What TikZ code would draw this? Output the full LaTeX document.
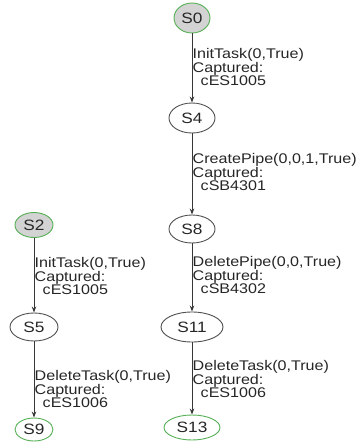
\documentclass[tikz,border=0pt]{standalone}
\usepackage{fontspec}
\setmainfont{Liberation Sans}[FakeStretch=1.15]
\usetikzlibrary{shapes.geometric,arrows.meta}
\definecolor{edgegray}{RGB}{55,55,55}
\definecolor{nodegray}{RGB}{80,80,80}
\definecolor{startfill}{RGB}{211,211,211}
\definecolor{stategreen}{RGB}{85,175,85}
\begin{document}
\begin{tikzpicture}[x=1pt,y=-1pt,
  state/.style={ellipse,draw=nodegray,line width=0.9pt,inner sep=0pt,
    font=\fontsize{15}{15}\selectfont,text=black!85},
  initstate/.style={state,draw=stategreen,fill=startfill},
  finalstate/.style={state,draw=stategreen},
  trans/.style={draw=edgegray,line width=0.9pt,
    -{Stealth[length=6pt,width=4.5pt]}},
  tlabel/.style={anchor=west,align=left,inner sep=0pt,text=black!85,
    font=\fontsize{14}{13.8}\selectfont}]
\useasboundingbox (0,0) rectangle (358,442);

% right chain
\node[initstate,minimum width=36pt,minimum height=30pt] (s0) at (192,18) {S0};
\node[state,minimum width=46pt,minimum height=30pt] (s4) at (192,118) {S4};
\node[state,minimum width=46pt,minimum height=28pt] (s8) at (192,229) {S8};
\node[state,minimum width=62pt,minimum height=30pt] (s11) at (192,327) {S11};
\node[finalstate,minimum width=56pt,minimum height=25pt] (s13) at (192,427.5) {S13};

% left chain
\node[initstate,minimum width=38pt,minimum height=25pt] (s2) at (34,225) {S2};
\node[state,minimum width=48pt,minimum height=28pt] (s5) at (34,327) {S5};
\node[finalstate,minimum width=38pt,minimum height=23pt] (s9) at (34,429.5) {S9};

% transitions
\draw[trans] (s0) -- (s4);
\draw[trans] (s4) -- (s8);
\draw[trans] (s8) -- (s11);
\draw[trans] (s11) -- (s13);
\draw[trans] (s2) -- (s5);
\draw[trans] (s5) -- (s9);

% transition labels
\node[tlabel] (l04) at (192.5,67) {InitTask(0,True)\\Captured:\\\hspace{8pt}cES1005};
\node[tlabel] (l48) at (192.5,172) {CreatePipe(0,0,1,True)\\Captured:\\\hspace{8pt}cSB4301};
\node[tlabel] (l811) at (192.5,275) {DeletePipe(0,0,True)\\Captured:\\\hspace{8pt}cSB4302};
\node[tlabel] (l1113) at (192.5,379) {DeleteTask(0,True)\\Captured:\\\hspace{8pt}cES1006};
\node[tlabel] (l25) at (34.5,276) {InitTask(0,True)\\Captured:\\\hspace{8pt}cES1005};
\node[tlabel] (l59) at (34.5,389) {DeleteTask(0,True)\\Captured:\\\hspace{8pt}cES1006};
\end{tikzpicture}
\end{document}
